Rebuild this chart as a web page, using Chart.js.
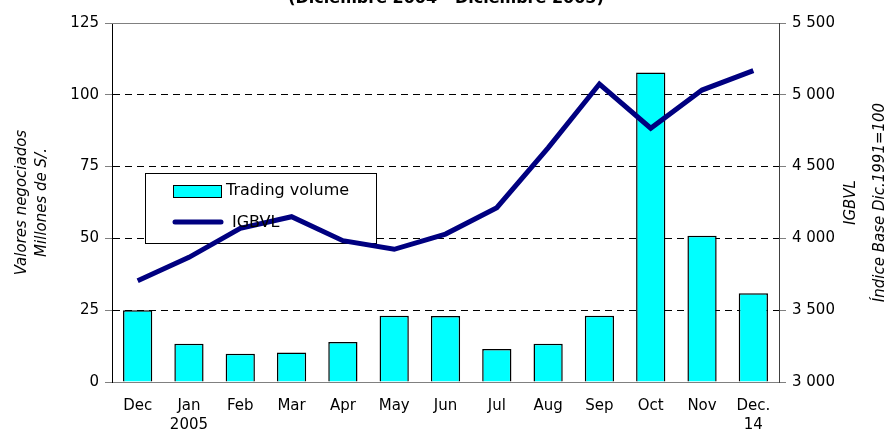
<!DOCTYPE html>
<html>
<head>
<meta charset="utf-8">
<script src="https://cdn.jsdelivr.net/npm/chart.js@4"></script>
<style>
  html, body { margin: 0; padding: 0; background: #fff; }
  #wrap { width: 892px; height: 434px; }
</style>
</head>
<body>
<div id="wrap"><canvas id="myChart" width="892" height="434"></canvas></div>
<script>
// data
let months = ["Dec", ["Jan", "2005"], "Feb", "Mar", "Apr", "May", "Jun", "Jul", "Aug", "Sep", "Oct", "Nov", ["Dec.", "14"]]
let tradingVolume = [25, 13.3, 9.8, 10.3, 13.9, 23.1, 23, 11.5, 13.3, 23.1, 107.8, 50.9, 30.9]
let igbvl = [3705, 3868, 4070, 4151, 3984, 3924, 4030, 4214, 4630, 5075, 4767, 5033, 5168]
let leftTicks = [0, 25, 50, 75, 100, 125]
let rightTicks = [3000, 3500, 4000, 4500, 5000, 5500]

let FONT = "'DejaVu Sans', 'Liberation Sans', Arial, sans-serif"

function fmtThousands(v) {
    return String(v).replace(/\B(?=(\d{3})+(?!\d))/g, " ")
}

/*------------------------------ extra drawing: title, axis titles, legend box ------------------------------*/
let extras = {
    id: "extras",
    beforeDatasetsDraw(chart) {
        let ctx = chart.ctx
        let a = chart.chartArea
        // legend box (white, hides grid lines)
        let bx = a.left + 33, by = a.top + 150, bw = 231, bh = 70
        ctx.save()
        ctx.fillStyle = "#fff"
        ctx.fillRect(bx, by, bw, bh)
        ctx.strokeStyle = "#000"
        ctx.lineWidth = 1
        ctx.strokeRect(bx + 0.5, by + 0.5, bw, bh)
        ctx.fillStyle = "#00FFFF"
        ctx.fillRect(bx + 28, by + 12, 48, 12)
        ctx.strokeRect(bx + 28.5, by + 12.5, 48, 12)
        ctx.strokeStyle = "#000080"
        ctx.lineWidth = 5
        ctx.lineCap = "round"
        ctx.beginPath()
        ctx.moveTo(bx + 30, by + 49)
        ctx.lineTo(bx + 76, by + 49)
        ctx.stroke()
        ctx.restore()
    },
    afterDraw(chart) {
        let ctx = chart.ctx
        let a = chart.chartArea
        let bx = a.left + 33, by = a.top + 150
        ctx.save()
        // top border of plot
        ctx.strokeStyle = "#808080"
        ctx.lineWidth = 1
        ctx.beginPath()
        ctx.moveTo(a.left - 7, a.top + 0.5)
        ctx.lineTo(a.right, a.top + 0.5)
        ctx.stroke()

        ctx.fillStyle = "#000"
        ctx.textAlign = "center"
        // chart title, cut at the top like the reference
        ctx.font = "bold 16px " + FONT
        ctx.textBaseline = "alphabetic"
        ctx.fillText("(Diciembre 2004 - Diciembre 2005)", 446, 3)

        // legend labels
        ctx.textAlign = "left"
        ctx.textBaseline = "middle"
        ctx.font = "16px " + FONT
        ctx.fillText("Trading volume", bx + 81, by + 18)
        ctx.fillText("IGBVL", bx + 87, by + 50)

        // axis titles
        ctx.font = "italic 15px " + FONT
        ctx.textAlign = "center"
        let cy = (a.top + a.bottom) / 2
        ctx.translate(22, cy)
        ctx.rotate(-Math.PI / 2)
        ctx.fillText("Valores negociados", 0, 0)
        ctx.fillText("Millones de S/.", 0, 20)
        ctx.restore()

        ctx.save()
        ctx.fillStyle = "#000"
        ctx.font = "italic 15px " + FONT
        ctx.textAlign = "center"
        ctx.textBaseline = "middle"
        ctx.translate(851, cy)
        ctx.rotate(-Math.PI / 2)
        ctx.fillText("IGBVL", 0, 0)
        ctx.fillText("Índice Base Dic.1991=100", 0, 29)
        ctx.restore()
    }
}

var ctx = document.getElementById("myChart").getContext("2d")
var myChart = new Chart(ctx, {
    type: "bar",
    data: {
        labels: months,
        datasets: [{
            type: "line",
            label: "IGBVL",
            data: igbvl,
            yAxisID: "y1",
            borderColor: "#000080",
            borderWidth: 5,
            pointRadius: 0,
            tension: 0,
            order: 0
        }, {
            type: "bar",
            label: "Trading volume",
            data: tradingVolume,
            yAxisID: "y",
            backgroundColor: "#00FFFF",
            borderColor: "#000",
            borderWidth: 1.5,
            categoryPercentage: 1,
            barPercentage: 0.57,
            order: 1
        }]
    },
    options: {
        responsive: false,
        animation: false,
        layout: { padding: { top: 23, left: 0, right: 0, bottom: 0 } },
        plugins: {
            legend: { display: false },
            title: { display: false },
            tooltip: { enabled: false }
        },
        scales: {
            x: {
                grid: { display: false },
                border: { color: "#808080", width: 1 },
                ticks: {
                    color: "#000",
                    font: { family: FONT, size: 15, lineHeight: 1.3 },
                    padding: 6,
                    maxRotation: 0,
                    autoSkip: false
                },
                afterFit: function (scale) { scale.height = 52 }
            },
            y: {
                position: "left",
                min: 0,
                max: 125,
                afterBuildTicks: function (scale) { scale.ticks = leftTicks.map(v => ({ value: v })) },
                grid: {
                    color: function (c) {
                        if (c.tick && (c.tick.value == 0 || c.tick.value == 125)) return "rgba(0,0,0,0)"
                        return "#000"
                    },
                    tickColor: "#808080",
                    tickLength: 7,
                    lineWidth: 1
                },
                border: { color: "#000", width: 1, dash: [7, 5] },
                ticks: {
                    color: "#000",
                    font: { family: FONT, size: 15 },
                    padding: 6
                },
                afterFit: function (scale) { scale.width = 112 }
            },
            y1: {
                position: "right",
                min: 3000,
                max: 5500,
                afterBuildTicks: function (scale) { scale.ticks = rightTicks.map(v => ({ value: v })) },
                grid: {
                    drawOnChartArea: false,
                    tickColor: "#808080",
                    tickLength: 7
                },
                border: { color: "#404040", width: 1 },
                ticks: {
                    color: "#000",
                    font: { family: FONT, size: 15 },
                    padding: 6,
                    callback: function (v) { return fmtThousands(v) }
                },
                afterFit: function (scale) { scale.width = 113 }
            }
        }
    },
    plugins: [extras]
})
</script>
</body>
</html>
